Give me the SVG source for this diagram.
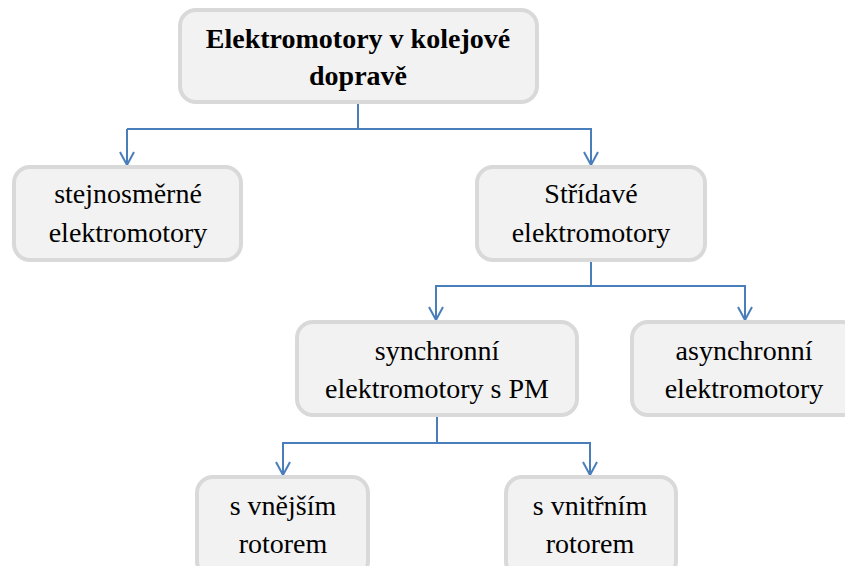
<svg xmlns="http://www.w3.org/2000/svg" width="845" height="566" viewBox="0 0 845 566">
<defs>
<marker id="ah" markerWidth="16" markerHeight="16" refX="14" refY="8" orient="auto" markerUnits="userSpaceOnUse" viewBox="0 0 16 16">
<path d="M1,1 L14,8 L1,15" fill="none" stroke="#4a7ebb" stroke-width="2"/>
</marker>
</defs>
<rect width="845" height="566" fill="#fff"/>
<g id="connectors" fill="none" stroke="#4a7ebb" stroke-width="2">
<path d="M358,102 V129 H127"/>
<path d="M127,129 V165" marker-end="url(#ah)"/>
<path d="M358,129 H591 V165" marker-end="url(#ah)"/>
<path d="M591,261 V286 H436 V320" marker-end="url(#ah)"/>
<path d="M591,286 H745 V320" marker-end="url(#ah)"/>
<path d="M437,416 V443 H283 V475" marker-end="url(#ah)"/>
<path d="M437,443 H590 V475" marker-end="url(#ah)"/>
</g>
<g id="root">
<rect x="180" y="10" width="357" height="92" rx="16" fill="#f2f2f2" stroke="#d9d9d9" stroke-width="4"/>
<text x="358" y="48" font-family="Liberation Serif" font-size="28" text-anchor="middle" font-weight="bold">Elektromotory v kolejové</text>
<text x="358" y="85" font-family="Liberation Serif" font-size="28" text-anchor="middle" font-weight="bold">dopravě</text>
</g>
<g id="dc">
<rect x="14" y="167" width="227" height="93" rx="16" fill="#f2f2f2" stroke="#d9d9d9" stroke-width="4"/>
<text x="128" y="203" font-family="Liberation Serif" font-size="28" text-anchor="middle">stejnosměrné</text>
<text x="128" y="242" font-family="Liberation Serif" font-size="28" text-anchor="middle">elektromotory</text>
</g>
<g id="ac">
<rect x="477" y="167" width="228" height="93" rx="16" fill="#f2f2f2" stroke="#d9d9d9" stroke-width="4"/>
<text x="591" y="203" font-family="Liberation Serif" font-size="28" text-anchor="middle">Střídavé</text>
<text x="591" y="242" font-family="Liberation Serif" font-size="28" text-anchor="middle">elektromotory</text>
</g>
<g id="sync">
<rect x="297" y="322" width="280" height="93" rx="16" fill="#f2f2f2" stroke="#d9d9d9" stroke-width="4"/>
<text x="437" y="360" font-family="Liberation Serif" font-size="28" text-anchor="middle">synchronní</text>
<text x="437" y="398" font-family="Liberation Serif" font-size="28" text-anchor="middle">elektromotory s PM</text>
</g>
<g id="async">
<rect x="632" y="322" width="226" height="93" rx="16" fill="#f2f2f2" stroke="#d9d9d9" stroke-width="4"/>
<text x="744" y="360" font-family="Liberation Serif" font-size="28" text-anchor="middle">asynchronní</text>
<text x="744" y="398" font-family="Liberation Serif" font-size="28" text-anchor="middle">elektromotory</text>
</g>
<g id="outer">
<rect x="197" y="477" width="171" height="100" rx="16" fill="#f2f2f2" stroke="#d9d9d9" stroke-width="4"/>
<text x="283" y="515" font-family="Liberation Serif" font-size="28" text-anchor="middle">s vnějším</text>
<text x="283" y="553" font-family="Liberation Serif" font-size="28" text-anchor="middle">rotorem</text>
</g>
<g id="inner">
<rect x="506" y="477" width="170" height="100" rx="16" fill="#f2f2f2" stroke="#d9d9d9" stroke-width="4"/>
<text x="590" y="515" font-family="Liberation Serif" font-size="28" text-anchor="middle">s vnitřním</text>
<text x="590" y="553" font-family="Liberation Serif" font-size="28" text-anchor="middle">rotorem</text>
</g>
</svg>
